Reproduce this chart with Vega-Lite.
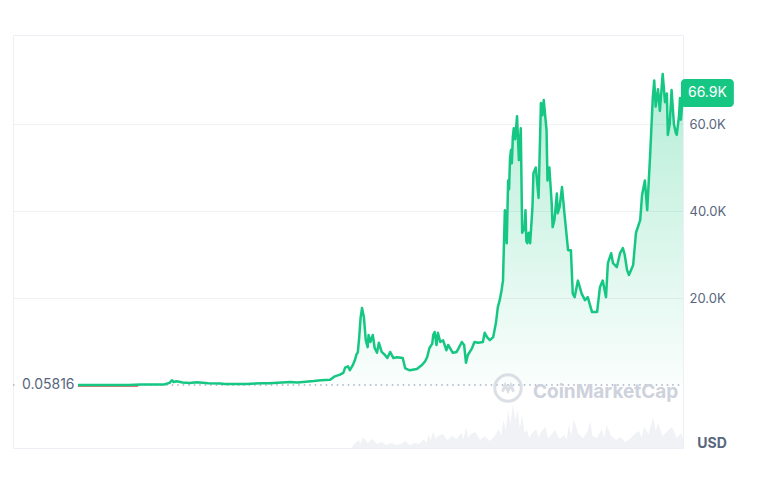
{
  "$schema": "https://vega.github.io/schema/vega-lite/v6.json",
  "width": 670,
  "height": 413,
  "autosize": "none",
  "padding": {"left": 13, "top": 35, "right": 82, "bottom": 42},
  "background": "white",
  "config": {
    "view": {"stroke": "#eceff3", "strokeWidth": 1},
    "font": "Inter",
    "axis": {"labelFont": "Inter", "labelColor": "#58667e", "labelFontSize": 13}
  },
  "datasets": {
    "price": [
      {"t": 2011.915, "p": 3}, {"t": 2012.0, "p": 5}, {"t": 2012.5, "p": 7}, {"t": 2013.0, "p": 13},
      {"t": 2013.25, "p": 110}, {"t": 2013.33, "p": 140}, {"t": 2013.5, "p": 90}, {"t": 2013.75, "p": 130},
      {"t": 2013.87, "p": 500}, {"t": 2013.92, "p": 1100}, {"t": 2013.96, "p": 700}, {"t": 2014.02, "p": 850},
      {"t": 2014.15, "p": 600}, {"t": 2014.3, "p": 450}, {"t": 2014.45, "p": 620}, {"t": 2014.7, "p": 420},
      {"t": 2014.95, "p": 320}, {"t": 2015.05, "p": 220}, {"t": 2015.5, "p": 260}, {"t": 2015.85, "p": 380},
      {"t": 2016.0, "p": 430}, {"t": 2016.45, "p": 700}, {"t": 2016.6, "p": 600}, {"t": 2016.95, "p": 900},
      {"t": 2017.1, "p": 1100}, {"t": 2017.3, "p": 1200}, {"t": 2017.4, "p": 2000}, {"t": 2017.51, "p": 2400},
      {"t": 2017.58, "p": 2800}, {"t": 2017.62, "p": 4000}, {"t": 2017.68, "p": 4300}, {"t": 2017.72, "p": 3400},
      {"t": 2017.78, "p": 4500}, {"t": 2017.83, "p": 5800}, {"t": 2017.86, "p": 7000}, {"t": 2017.89, "p": 7500},
      {"t": 2017.92, "p": 11000}, {"t": 2017.95, "p": 15500}, {"t": 2017.98, "p": 17700}, {"t": 2018.02, "p": 15600},
      {"t": 2018.06, "p": 10300}, {"t": 2018.1, "p": 8700}, {"t": 2018.12, "p": 11500}, {"t": 2018.16, "p": 9900},
      {"t": 2018.21, "p": 11500}, {"t": 2018.25, "p": 8500}, {"t": 2018.3, "p": 7400}, {"t": 2018.34, "p": 9700},
      {"t": 2018.4, "p": 7600}, {"t": 2018.47, "p": 6900}, {"t": 2018.52, "p": 6200}, {"t": 2018.58, "p": 7600},
      {"t": 2018.65, "p": 6200}, {"t": 2018.73, "p": 6400}, {"t": 2018.85, "p": 6200}, {"t": 2018.9, "p": 3900},
      {"t": 2018.95, "p": 3600}, {"t": 2019.0, "p": 3400}, {"t": 2019.15, "p": 3700}, {"t": 2019.26, "p": 4600},
      {"t": 2019.33, "p": 5500}, {"t": 2019.37, "p": 6400}, {"t": 2019.42, "p": 8500}, {"t": 2019.48, "p": 9500},
      {"t": 2019.5, "p": 11500}, {"t": 2019.53, "p": 12200}, {"t": 2019.57, "p": 9200}, {"t": 2019.6, "p": 12000},
      {"t": 2019.65, "p": 9900}, {"t": 2019.71, "p": 10300}, {"t": 2019.78, "p": 8000}, {"t": 2019.82, "p": 9200},
      {"t": 2019.92, "p": 7400}, {"t": 2020.0, "p": 7600}, {"t": 2020.05, "p": 8600}, {"t": 2020.11, "p": 9900},
      {"t": 2020.16, "p": 9200}, {"t": 2020.2, "p": 5100}, {"t": 2020.24, "p": 6900}, {"t": 2020.33, "p": 8500},
      {"t": 2020.38, "p": 9900}, {"t": 2020.46, "p": 9700}, {"t": 2020.56, "p": 9900}, {"t": 2020.6, "p": 12000},
      {"t": 2020.65, "p": 11000}, {"t": 2020.71, "p": 10300}, {"t": 2020.78, "p": 11000}, {"t": 2020.84, "p": 14300},
      {"t": 2020.88, "p": 17900}, {"t": 2020.92, "p": 19500}, {"t": 2020.96, "p": 21800}, {"t": 2020.99, "p": 24000},
      {"t": 2021.03, "p": 40200}, {"t": 2021.07, "p": 32600}, {"t": 2021.1, "p": 47000}, {"t": 2021.12, "p": 45000},
      {"t": 2021.14, "p": 52000}, {"t": 2021.16, "p": 54000}, {"t": 2021.18, "p": 51000}, {"t": 2021.2, "p": 57000},
      {"t": 2021.22, "p": 59000}, {"t": 2021.25, "p": 56500}, {"t": 2021.29, "p": 61800}, {"t": 2021.33, "p": 51700},
      {"t": 2021.37, "p": 59000}, {"t": 2021.4, "p": 35000}, {"t": 2021.45, "p": 36000}, {"t": 2021.47, "p": 40200},
      {"t": 2021.49, "p": 33000}, {"t": 2021.51, "p": 32600}, {"t": 2021.54, "p": 35000}, {"t": 2021.57, "p": 32600},
      {"t": 2021.62, "p": 41000}, {"t": 2021.64, "p": 48700}, {"t": 2021.69, "p": 50000}, {"t": 2021.75, "p": 43000},
      {"t": 2021.8, "p": 64800}, {"t": 2021.83, "p": 62000}, {"t": 2021.86, "p": 65500}, {"t": 2021.92, "p": 58600},
      {"t": 2021.94, "p": 47000}, {"t": 2021.98, "p": 50000}, {"t": 2022.03, "p": 41800}, {"t": 2022.05, "p": 36300},
      {"t": 2022.09, "p": 38000}, {"t": 2022.14, "p": 44000}, {"t": 2022.16, "p": 39500}, {"t": 2022.2, "p": 41000},
      {"t": 2022.25, "p": 45500}, {"t": 2022.31, "p": 38600}, {"t": 2022.38, "p": 31000},
      {"t": 2022.44, "p": 31000}, {"t": 2022.48, "p": 21000}, {"t": 2022.52, "p": 20200}, {"t": 2022.59, "p": 24000},
      {"t": 2022.67, "p": 21000}, {"t": 2022.74, "p": 19500}, {"t": 2022.8, "p": 20200}, {"t": 2022.89, "p": 16800},
      {"t": 2023.0, "p": 16800}, {"t": 2023.06, "p": 22500}, {"t": 2023.12, "p": 24000}, {"t": 2023.19, "p": 20200},
      {"t": 2023.23, "p": 28000}, {"t": 2023.3, "p": 30300}, {"t": 2023.34, "p": 28000}, {"t": 2023.42, "p": 27100},
      {"t": 2023.49, "p": 30300}, {"t": 2023.55, "p": 31500}, {"t": 2023.59, "p": 29900}, {"t": 2023.64, "p": 26400},
      {"t": 2023.68, "p": 25300}, {"t": 2023.77, "p": 27600}, {"t": 2023.83, "p": 35000}, {"t": 2023.92, "p": 37900},
      {"t": 2023.96, "p": 43700}, {"t": 2024.02, "p": 47000}, {"t": 2024.07, "p": 40200}, {"t": 2024.13, "p": 52400},
      {"t": 2024.19, "p": 66200}, {"t": 2024.22, "p": 70000}, {"t": 2024.25, "p": 64000}, {"t": 2024.3, "p": 68000},
      {"t": 2024.34, "p": 63000}, {"t": 2024.4, "p": 71500}, {"t": 2024.45, "p": 65000}, {"t": 2024.49, "p": 67000},
      {"t": 2024.51, "p": 57500}, {"t": 2024.55, "p": 60000}, {"t": 2024.59, "p": 67800}, {"t": 2024.64, "p": 60000},
      {"t": 2024.68, "p": 58000}, {"t": 2024.7, "p": 57500}, {"t": 2024.75, "p": 62000}, {"t": 2024.77, "p": 66000},
      {"t": 2024.79, "p": 61000}, {"t": 2024.834, "p": 66900}
    ],
    "early": [
      {"t": 2011.915, "p": -250}, {"t": 2013.2, "p": -250}
    ],
    "volume": [
      {"t": 2017.75, "v": 0}, {"t": 2017.8, "v": 3}, {"t": 2017.9, "v": 8}, {"t": 2017.95, "v": 4}, {"t": 2018.0, "v": 11}, {"t": 2018.1, "v": 5}, {"t": 2018.2, "v": 9},
      {"t": 2018.3, "v": 4}, {"t": 2018.4, "v": 6}, {"t": 2018.5, "v": 3}, {"t": 2018.6, "v": 5}, {"t": 2018.7, "v": 3},
      {"t": 2018.8, "v": 4}, {"t": 2018.9, "v": 7}, {"t": 2019.0, "v": 3}, {"t": 2019.1, "v": 5}, {"t": 2019.2, "v": 4},
      {"t": 2019.3, "v": 9}, {"t": 2019.35, "v": 5}, {"t": 2019.4, "v": 13}, {"t": 2019.45, "v": 8}, {"t": 2019.5, "v": 17}, {"t": 2019.55, "v": 9}, {"t": 2019.6, "v": 12}, {"t": 2019.7, "v": 14},
      {"t": 2019.8, "v": 8}, {"t": 2019.9, "v": 12}, {"t": 2020.0, "v": 9}, {"t": 2020.1, "v": 15}, {"t": 2020.15, "v": 9}, {"t": 2020.2, "v": 21},
      {"t": 2020.25, "v": 10}, {"t": 2020.3, "v": 14}, {"t": 2020.4, "v": 16}, {"t": 2020.5, "v": 8}, {"t": 2020.6, "v": 12}, {"t": 2020.7, "v": 7},
      {"t": 2020.8, "v": 11}, {"t": 2020.9, "v": 19}, {"t": 2020.95, "v": 12}, {"t": 2021.0, "v": 28}, {"t": 2021.05, "v": 18}, {"t": 2021.1, "v": 38},
      {"t": 2021.15, "v": 24}, {"t": 2021.2, "v": 44}, {"t": 2021.25, "v": 28}, {"t": 2021.3, "v": 38}, {"t": 2021.35, "v": 20},
      {"t": 2021.4, "v": 33}, {"t": 2021.45, "v": 15}, {"t": 2021.5, "v": 18}, {"t": 2021.55, "v": 10}, {"t": 2021.6, "v": 14}, {"t": 2021.7, "v": 19}, {"t": 2021.75, "v": 10}, {"t": 2021.8, "v": 16},
      {"t": 2021.9, "v": 21}, {"t": 2021.95, "v": 10}, {"t": 2022.0, "v": 12}, {"t": 2022.1, "v": 18}, {"t": 2022.2, "v": 9}, {"t": 2022.3, "v": 13},
      {"t": 2022.35, "v": 8}, {"t": 2022.4, "v": 24}, {"t": 2022.45, "v": 12}, {"t": 2022.5, "v": 29}, {"t": 2022.6, "v": 14}, {"t": 2022.7, "v": 10}, {"t": 2022.8, "v": 17},
      {"t": 2022.85, "v": 27}, {"t": 2022.9, "v": 12}, {"t": 2023.0, "v": 10}, {"t": 2023.1, "v": 19}, {"t": 2023.15, "v": 10}, {"t": 2023.2, "v": 23},
      {"t": 2023.3, "v": 12}, {"t": 2023.4, "v": 8}, {"t": 2023.5, "v": 11}, {"t": 2023.6, "v": 6}, {"t": 2023.7, "v": 9},
      {"t": 2023.8, "v": 14}, {"t": 2023.9, "v": 17}, {"t": 2023.95, "v": 10}, {"t": 2024.0, "v": 21}, {"t": 2024.1, "v": 14}, {"t": 2024.2, "v": 31},
      {"t": 2024.25, "v": 17}, {"t": 2024.3, "v": 25}, {"t": 2024.4, "v": 12}, {"t": 2024.5, "v": 17}, {"t": 2024.6, "v": 21},
      {"t": 2024.7, "v": 10}, {"t": 2024.8, "v": 15}, {"t": 2024.834, "v": 9}
    ]
  },
  "layer": [
    {
      "data": {"name": "volume"},
      "mark": {"type": "area", "color": "#f0f2f5", "interpolate": "linear"},
      "encoding": {
        "x": {"field": "t", "type": "quantitative", "scale": {"domain": [2010.527, 2024.834], "nice": false, "zero": false}, "axis": null},
        "y": {"field": "v", "type": "quantitative", "scale": {"domain": [0, 413], "nice": false}, "axis": null}
      }
    },
    {
      "layer": [
        {
          "data": {"values": [{"a": 2010.527, "b": 2010.56}, {"a": 2011.92, "b": 2024.834}]},
          "mark": {"type": "rule", "color": "#a6b0c3", "strokeDash": [1.5, 4], "strokeWidth": 1.5},
          "encoding": {
            "x": {"field": "a", "type": "quantitative",
              "scale": {"domain": [2010.527, 2024.834], "nice": false, "zero": false},
              "axis": {"values": [2012, 2014, 2016, 2018, 2020, 2022, 2024], "format": "d", "ticks": false, "domain": false, "grid": false, "labelPadding": 9, "title": null}},
            "x2": {"field": "b"},
            "y": {"datum": 0, "type": "quantitative",
              "scale": {"domain": [-14480, 80460], "nice": false, "zero": false},
              "axis": {"orient": "right", "values": [20000, 40000, 60000], "labelExpr": "format(datum.value/1000, '.1f') + 'K'", "ticks": false, "domain": false, "grid": true, "gridColor": "#eff2f5", "gridWidth": 1, "labelPadding": 6, "title": null}}
          }
        },
        {
          "data": {"name": "price"},
          "mark": {"type": "area", "interpolate": "linear",
            "color": {"gradient": "linear", "x1": 0, "y1": 0, "x2": 0, "y2": 1,
              "stops": [{"offset": 0, "color": "rgba(22,199,132,0.32)"}, {"offset": 1, "color": "rgba(22,199,132,0.02)"}]}},
          "encoding": {
            "x": {"field": "t", "type": "quantitative"},
            "y": {"field": "p", "type": "quantitative"},
            "y2": {"datum": 0}
          }
        },
        {
          "data": {"name": "early"},
          "mark": {"type": "line", "color": "#d9534f", "strokeWidth": 2, "opacity": 0.8},
          "encoding": {
            "x": {"field": "t", "type": "quantitative"},
            "y": {"field": "p", "type": "quantitative"}
          }
        },
        {
          "data": {"name": "price"},
          "mark": {"type": "line", "color": "#16c784", "strokeWidth": 2.5, "strokeJoin": "round"},
          "encoding": {
            "x": {"field": "t", "type": "quantitative"},
            "y": {"field": "p", "type": "quantitative"}
          }
        },
        {
          "data": {"values": [{"t": 2010.527, "p": 0, "label": "0.05816"}]},
          "mark": {"type": "text", "align": "left", "baseline": "middle", "dx": 9, "fontSize": 14, "color": "#58667e", "font": "Inter"},
          "encoding": {
            "x": {"field": "t", "type": "quantitative"},
            "y": {"field": "p", "type": "quantitative"},
            "text": {"field": "label"}
          }
        },
        {
          "data": {"values": [{"t": 2021.097, "p": -690}]},
          "mark": {"type": "point", "shape": "circle", "size": 700, "filled": false, "stroke": "#cdd2dc", "strokeWidth": 3},
          "encoding": {
            "x": {"field": "t", "type": "quantitative"},
            "y": {"field": "p", "type": "quantitative"}
          }
        },
        {
          "data": {"values": [{"t": 2021.097, "p": -690}]},
          "mark": {"type": "point", "shape": "M-0.8,0.5 L-0.4,-0.4 L0,0.4 L0.4,-0.4 L0.8,0.5", "size": 200, "filled": false, "stroke": "#cdd2dc", "strokeWidth": 3},
          "encoding": {
            "x": {"field": "t", "type": "quantitative"},
            "y": {"field": "p", "type": "quantitative"}
          }
        },
        {
          "data": {"values": [{"t": 2021.63, "p": -1609, "label": "CoinMarketCap"}]},
          "mark": {"type": "text", "align": "left", "baseline": "middle", "fontSize": 19, "fontWeight": "bold", "color": "#cdd2dc", "font": "Inter"},
          "encoding": {
            "x": {"field": "t", "type": "quantitative"},
            "y": {"field": "p", "type": "quantitative"},
            "text": {"field": "label"}
          }
        },
        {
          "data": {"values": [{"a": 2024.79, "b": 2025.92, "lo": 63908, "hi": 70345}]},
          "mark": {"type": "rect", "color": "#16c784", "cornerRadius": 4},
          "encoding": {
            "x": {"field": "a", "type": "quantitative"},
            "x2": {"field": "b"},
            "y": {"field": "lo", "type": "quantitative"},
            "y2": {"field": "hi"}
          }
        },
        {
          "data": {"values": [{"t": 2025.355, "p": 67120, "label": "66.9K"}]},
          "mark": {"type": "text", "align": "center", "baseline": "middle", "fontSize": 14, "color": "white", "font": "Inter"},
          "encoding": {
            "x": {"field": "t", "type": "quantitative"},
            "y": {"field": "p", "type": "quantitative"},
            "text": {"field": "label"}
          }
        },
        {
          "data": {"values": [{"t": 2025.453, "p": -13563, "label": "USD"}]},
          "mark": {"type": "text", "align": "center", "baseline": "middle", "fontSize": 14, "fontWeight": "bold", "color": "#58667e", "font": "Inter"},
          "encoding": {
            "x": {"field": "t", "type": "quantitative"},
            "y": {"field": "p", "type": "quantitative"},
            "text": {"field": "label"}
          }
        }
      ]
    }
  ],
  "resolve": {"scale": {"y": "independent"}}
}
